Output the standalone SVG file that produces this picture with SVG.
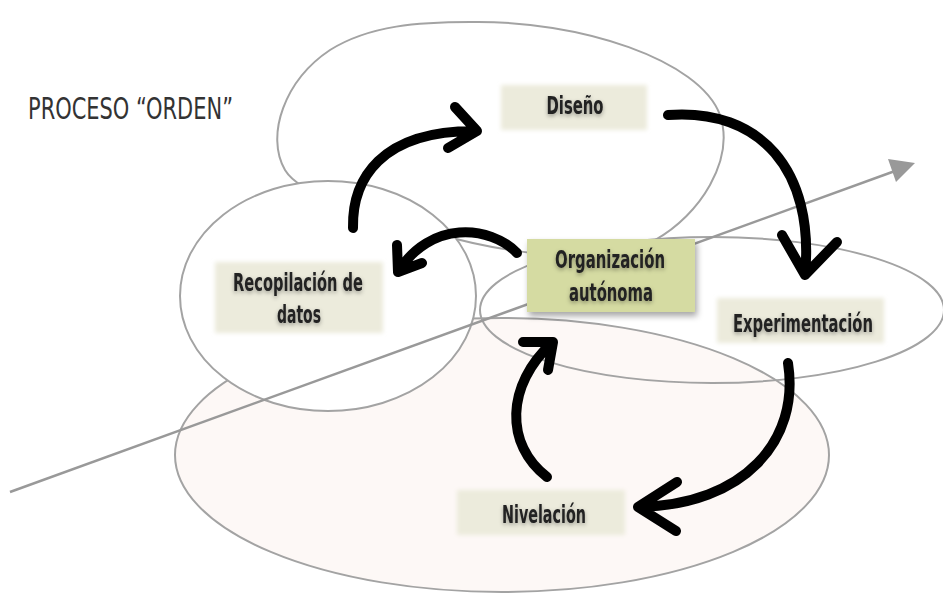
<svg xmlns="http://www.w3.org/2000/svg" width="943" height="593" viewBox="0 0 943 593">
<defs>
<style>
.ell{stroke:#a3a3a3;stroke-width:2}
.box{fill:#ecebdc}
.org{fill:#d5dba2}
.t{font-family:"DejaVu Sans Condensed","Liberation Sans",sans-serif;font-weight:bold;font-size:25.5px;fill:#222;text-anchor:middle}
.arr{fill:none;stroke:#000;stroke-width:10;stroke-linecap:round;stroke-linejoin:round}
</style>
<filter id="glow" x="-20%" y="-30%" width="140%" height="160%">
<feGaussianBlur stdDeviation="2"/>
</filter>
<filter id="tsh" x="-20%" y="-40%" width="140%" height="180%">
<feDropShadow dx="0" dy="2" stdDeviation="2" flood-color="#000" flood-opacity="0.35"/>
</filter>
<filter id="bsh" x="-20%" y="-30%" width="140%" height="160%">
<feDropShadow dx="2" dy="4" stdDeviation="3" flood-color="#000" flood-opacity="0.35"/>
</filter>
</defs>
<rect width="943" height="593" fill="#fff"/>
<g id="regions">
<ellipse class="ell" cx="502" cy="455" rx="327" ry="137" fill="#fdf8f6"/>
<path class="ell" fill="#fff" d="M470,22 C580,20 700,60 720,115 C735,160 700,215 655,240 C610,265 520,258 430,232 C360,212 300,195 285,170 C265,135 285,80 330,50 C370,25 420,22 470,22 Z"/>
<ellipse class="ell" cx="712" cy="310" rx="232" ry="73" fill="none"/>
<ellipse class="ell" cx="328" cy="296" rx="148" ry="115" fill="#fff"/>
</g>
<g id="axis">
<line x1="10" y1="492" x2="895" y2="171" stroke="#999" stroke-width="2.5"/>
<path d="M888,159 L915,163 L896,182 Z" fill="#999"/>
</g>
<text x="28" y="119" font-family="DejaVu Sans Condensed,Liberation Sans,sans-serif" font-size="30" fill="#333" textLength="205" lengthAdjust="spacingAndGlyphs">PROCESO “ORDEN”</text>
<g id="connectors">
<path class="arr" d="M353,228 C352,180 380,130 477,131 M455,107 L477,131 L448,148"/>
<path class="arr" d="M668,115 C760,108 815,170 805,275 M782,235 L805,275 L837,242"/>
<path class="arr" d="M517,253 C490,225 430,220 398,272 M397,245 L398,272 L422,263"/>
<path class="arr" d="M788,363 C800,440 745,505 638,507 M677,482 L638,507 L676,531"/>
<path class="arr" d="M547,477 C505,445 505,385 553,342 M523,342 L553,342 L548,370"/>
</g>
<g id="diseno">
<rect class="box" x="501" y="85" width="146" height="45" filter="url(#glow)"/>
<text class="t" x="575" y="114" filter="url(#tsh)" textLength="57" lengthAdjust="spacingAndGlyphs">Diseño</text>
</g>
<g id="recopilacion">
<rect class="box" x="215" y="262" width="168" height="71" filter="url(#glow)"/>
<text class="t" x="298" y="291" filter="url(#tsh)" textLength="130" lengthAdjust="spacingAndGlyphs">Recopilación de</text>
<text class="t" x="299" y="323" filter="url(#tsh)" textLength="44" lengthAdjust="spacingAndGlyphs">datos</text>
</g>
<g id="organizacion">
<rect class="org" x="527" y="239" width="168" height="73" filter="url(#bsh)"/>
<text class="t" x="610" y="268" filter="url(#tsh)" textLength="110" lengthAdjust="spacingAndGlyphs">Organización</text>
<text class="t" x="611" y="301" filter="url(#tsh)" textLength="84" lengthAdjust="spacingAndGlyphs">autónoma</text>
</g>
<g id="experimentacion">
<rect class="box" x="717" y="298" width="167" height="45" filter="url(#glow)"/>
<text class="t" x="803" y="332" filter="url(#tsh)" textLength="140" lengthAdjust="spacingAndGlyphs">Experimentación</text>
</g>
<g id="nivelacion">
<rect class="box" x="457" y="490" width="168" height="45" filter="url(#glow)"/>
<text class="t" x="544" y="523" filter="url(#tsh)" textLength="84" lengthAdjust="spacingAndGlyphs">Nivelación</text>
</g>
</svg>
